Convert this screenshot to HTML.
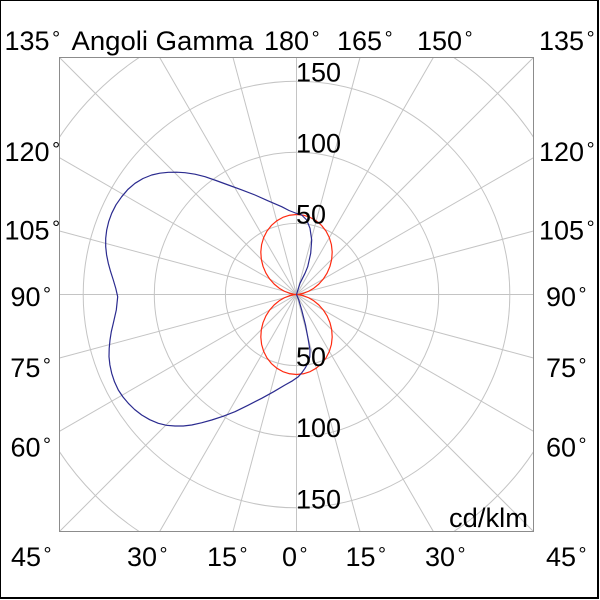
<!DOCTYPE html>
<html>
<head>
<meta charset="utf-8">
<style>
html,body{margin:0;padding:0;background:#fff;width:600px;height:600px;overflow:hidden;}
svg{display:block;}
text{font-family:"Liberation Sans",Arial,sans-serif;font-size:27px;fill:#000;}
</style>
</head>
<body>
<svg width="600" height="600" viewBox="0 0 600 600" xmlns="http://www.w3.org/2000/svg">
<rect x="0" y="0" width="600" height="600" fill="#fff"/>
<!-- outer frame -->
<line x1="0.5" y1="0" x2="0.5" y2="599" stroke="#000" stroke-width="1"/>
<line x1="0" y1="0.5" x2="599" y2="0.5" stroke="#000" stroke-width="1"/>
<rect x="597" y="0" width="2" height="599" fill="#000"/>
<rect x="0" y="597" width="599" height="2" fill="#000"/>

<defs>
<clipPath id="box"><rect x="59.5" y="57.5" width="474" height="474"/></clipPath>
</defs>

<g clip-path="url(#box)" stroke="#c4c4c4" stroke-width="1" fill="none">
  <circle cx="296.5" cy="294.5" r="71.1"/>
  <circle cx="296.5" cy="294.5" r="142.2"/>
  <circle cx="296.5" cy="294.5" r="213.3"/>
  <circle cx="296.5" cy="294.5" r="284.4"/>
</g>
<g stroke="#c4c4c4" stroke-width="1" fill="none">
  <line x1="296.5" y1="57.5" x2="296.5" y2="531.5"/>
  <line x1="360" y1="57.5" x2="233" y2="531.5"/>
  <line x1="433.33" y1="57.5" x2="159.67" y2="531.5"/>
  <line x1="533.5" y1="57.5" x2="59.5" y2="531.5"/>
  <line x1="533.5" y1="157.67" x2="59.5" y2="431.33"/>
  <line x1="533.5" y1="231" x2="59.5" y2="358"/>
  <line x1="533.5" y1="294.5" x2="59.5" y2="294.5"/>
  <line x1="533.5" y1="358" x2="59.5" y2="231"/>
  <line x1="533.5" y1="431.33" x2="59.5" y2="157.67"/>
  <line x1="533.5" y1="531.5" x2="59.5" y2="57.5"/>
  <line x1="433.33" y1="531.5" x2="159.67" y2="57.5"/>
  <line x1="360" y1="531.5" x2="233" y2="57.5"/>
</g>

<!-- plot box -->
<rect x="59.5" y="57.5" width="474" height="474" fill="none" stroke="#8c8c8c" stroke-width="1"/>

<!-- red curve (two lobes) -->
<g transform="translate(296.5,294.5)" fill="none" stroke="#ff2a10" stroke-width="1.2" stroke-linejoin="round">
  <path d="M0,0 L2.82,-0.25 L7.15,-1.26 L12.13,-3.25 L17.28,-6.29 L22.28,-10.39 L26.8,-15.48 L30.6,-21.43 L33.44,-28.06 L35.19,-35.19 L35.69,-42.54 L34.91,-49.86 L32.85,-56.89 L29.55,-63.36 L25.12,-69.03 L19.74,-73.69 L13.6,-77.15 L6.94,-79.28 L0,-80 L-6.94,-79.28 L-13.6,-77.15 L-19.74,-73.69 L-25.12,-69.03 L-29.55,-63.36 L-32.85,-56.89 L-34.91,-49.86 L-35.69,-42.54 L-35.19,-35.19 L-33.44,-28.06 L-30.6,-21.43 L-26.8,-15.48 L-22.28,-10.39 L-17.28,-6.29 L-12.13,-3.25 L-7.15,-1.26 L-2.82,-0.25 Z"/>
  <path d="M0,0 L2.82,0.25 L7.15,1.26 L12.13,3.25 L17.28,6.29 L22.28,10.39 L26.8,15.48 L30.6,21.43 L33.44,28.06 L35.19,35.19 L35.69,42.54 L34.91,49.86 L32.85,56.89 L29.55,63.36 L25.12,69.03 L19.74,73.69 L13.6,77.15 L6.94,79.28 L0,80 L-6.94,79.28 L-13.6,77.15 L-19.74,73.69 L-25.12,69.03 L-29.55,63.36 L-32.85,56.89 L-34.91,49.86 L-35.69,42.54 L-35.19,35.19 L-33.44,28.06 L-30.6,21.43 L-26.8,15.48 L-22.28,10.39 L-17.28,6.29 L-12.13,3.25 L-7.15,1.26 L-2.82,0.25 Z"/>
</g>

<!-- blue curve -->
<polyline fill="none" stroke="#2b2b8f" stroke-width="1.2" stroke-linejoin="round" points="
296.5,294.5 300,283.3 305,273.3 307.7,266.7 310.7,253.3 311.7,240 310,228.3 306.7,220 301.7,215 296.7,213.5
289,210.5 281.7,206.7 268,200.8 255,195 241.5,189.8 228.3,185 216,180.5 205,176.7 195,174.2 185,172.7
176.5,172.2 168.3,172.3 159.8,173.2 151.7,175 143,178.5 135,183.3 127.8,189.5 121.7,196.7 116,204.8 111.7,213.3
108.7,221.6 106.7,230 105.7,238.3 105.7,246.7 106.6,255 108.3,263.3 110.6,271.6 113.3,280 115.8,288.5 117.7,296.7
116.3,310 113.3,323.3 111.3,331.7 110,340 109.2,348.3 109,356.7 109.9,365 111.7,373.3 114.5,381.8 118.3,390
123,397 128.3,403.3 134.6,409.5 141.7,415 149.7,419.7 158.3,423.3 166.5,425.3 175,426 183.3,426 191.7,425
201.5,422.8 211.7,420 223,416.3 235,411.7 248,405.3 261.7,398.3 273.5,391.8 285,385 292.5,380.8 298.3,376.7
302,372.5 305,368.3 308,363 309.8,357 310,350 308.3,340 305.5,325 301.7,310 298.8,300 296.5,294.5"/>

<!-- radial value labels -->
<text x="296" y="81.5">150</text>
<text x="296" y="152.6">100</text>
<text x="296" y="223.7">50</text>
<text x="296" y="366">50</text>
<text x="296" y="437">100</text>
<text x="296" y="508.3">150</text>
<text x="449" y="527" textLength="79" lengthAdjust="spacingAndGlyphs">cd/klm</text>

<!-- top row -->
<text x="4.5" y="50">135<tspan font-size="20" dx="2.5" dy="-5">°</tspan></text>
<text x="71.5" y="50" textLength="182" lengthAdjust="spacingAndGlyphs">Angoli Gamma</text>
<text x="264" y="50">180<tspan font-size="20" dx="2.5" dy="-5">°</tspan></text>
<text x="337" y="50">165<tspan font-size="20" dx="2.5" dy="-5">°</tspan></text>
<text x="417" y="50">150<tspan font-size="20" dx="2.5" dy="-5">°</tspan></text>
<text x="539" y="50">135<tspan font-size="20" dx="2.5" dy="-5">°</tspan></text>

<!-- left column -->
<text x="4.5" y="161">120<tspan font-size="20" dx="2.5" dy="-5">°</tspan></text>
<text x="4.5" y="239.5">105<tspan font-size="20" dx="2.5" dy="-5">°</tspan></text>
<text x="10.5" y="306">90<tspan font-size="20" dx="2.5" dy="-5">°</tspan></text>
<text x="10.3" y="377">75<tspan font-size="20" dx="2.5" dy="-5">°</tspan></text>
<text x="10.5" y="456.5">60<tspan font-size="20" dx="2.5" dy="-5">°</tspan></text>
<text x="11" y="566">45<tspan font-size="20" dx="2.5" dy="-5">°</tspan></text>

<!-- right column -->
<text x="539" y="161">120<tspan font-size="20" dx="2.5" dy="-5">°</tspan></text>
<text x="539" y="239.5">105<tspan font-size="20" dx="2.5" dy="-5">°</tspan></text>
<text x="546" y="306">90<tspan font-size="20" dx="2.5" dy="-5">°</tspan></text>
<text x="546" y="377">75<tspan font-size="20" dx="2.5" dy="-5">°</tspan></text>
<text x="546" y="456.5">60<tspan font-size="20" dx="2.5" dy="-5">°</tspan></text>
<text x="546" y="566">45<tspan font-size="20" dx="2.5" dy="-5">°</tspan></text>

<!-- bottom row -->
<text x="127" y="566">30<tspan font-size="20" dx="2.5" dy="-5">°</tspan></text>
<text x="207" y="566">15<tspan font-size="20" dx="2.5" dy="-5">°</tspan></text>
<text x="282" y="566">0<tspan font-size="20" dx="2.5" dy="-5">°</tspan></text>
<text x="345.5" y="566">15<tspan font-size="20" dx="2.5" dy="-5">°</tspan></text>
<text x="425" y="566">30<tspan font-size="20" dx="2.5" dy="-5">°</tspan></text>
</svg>
</body>
</html>
